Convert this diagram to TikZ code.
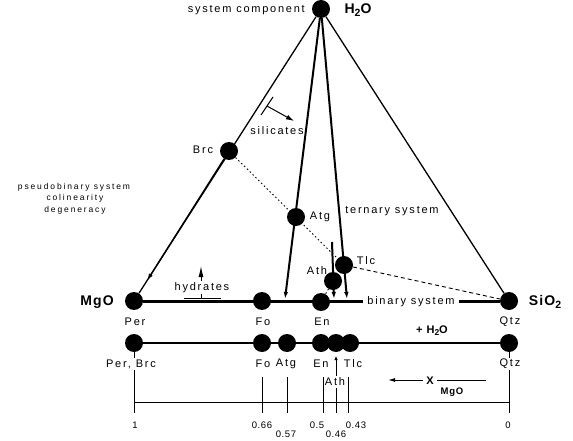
\documentclass[tikz,border=0pt]{standalone}
\usepackage{fontspec}
\setmainfont{Liberation Sans}
\newfontfamily\labfont{Liberation Sans}[LetterSpace=16]
\newfontfamily\numfont{Liberation Sans}[LetterSpace=6]
\newfontfamily\smallfont{Liberation Sans}[LetterSpace=22]
\newfontfamily\boldfont{Liberation Sans}[LetterSpace=8]
\usetikzlibrary{arrows.meta,calc}
\begin{document}
\begin{tikzpicture}[x=1pt,y=-1pt,
  dot/.style={circle,fill=black,inner sep=0pt,minimum size=18pt},
  lbl/.style={font=\labfont\fontsize{11}{12}\selectfont,inner sep=0pt},
  numlbl/.style={font=\numfont\fontsize{9.5}{10}\selectfont,inner sep=0pt},
  smlbl/.style={font=\smallfont\fontsize{8.5}{9}\selectfont,inner sep=0pt},
  bigbold/.style={font=\boldfont\bfseries\fontsize{14}{16}\selectfont,inner sep=0pt},
  midbold/.style={font=\boldfont\bfseries\fontsize{11}{12}\selectfont,inner sep=0pt},
  edge/.style={line width=1.3pt},
  proj/.style={line width=2pt},
  tick/.style={line width=1pt},
  tip/.style={-{Latex[length=7pt,width=4.5pt]}},
  dotline/.style={line width=0.9pt,dash pattern=on 1.5pt off 2.5pt},
  dashline/.style={line width=0.9pt,dash pattern=on 4pt off 3pt},
  whitebg/.style={fill=white}
]
\useasboundingbox (0,0) rectangle (573,441);
% --- main triangle dots
\node[dot] (H) at (321,9) {};
\node[dot] (M) at (134,301) {};
\node[dot] (S) at (509,301) {};
\node[dot] (Brc) at (229,151) {};
\node[dot] (Atg) at (296,217) {};
\node[dot] (Tlc) at (344,265) {};
\node[dot] (Ath) at (333,281) {};
\node[dot] (Fo) at (262,301) {};
\node[dot] (En) at (321,302) {};
% --- helper coordinates
\coordinate (pA) at (285,299);
\coordinate (pT) at (347,299);
\coordinate (athTop) at (332,242);
\coordinate (athBot) at (334,299);
\coordinate (midTip) at ($(H.center)!0.93!(M.center)$);
\coordinate (s1) at (261,115);
\coordinate (s2) at (273,97);
\coordinate (sa) at (267,106);
\coordinate (sb) at (294,121);
\coordinate (hB) at (201,281);
\coordinate (hT) at (201,266);
\coordinate (hl) at (184,298);
\coordinate (hr) at (221,298);
\coordinate (hm) at (201,294);
\coordinate (hm2) at (201,298);
% --- triangle
\draw[edge] (H) -- (M);
\draw[edge] (H) -- (S);
\draw[edge,tip] (Brc) -- (midTip);
\draw[line width=3pt] (M) -- (S);
% --- projections
\draw[proj,tip] (H) -- (pA);
\draw[proj,tip] (H) -- (pT);
\draw[proj,tip] (athTop) -- (athBot);
\draw[dotline] (Brc) -- (Tlc);
\draw[dashline] (Tlc) -- (S);
\draw[dotline] (Ath) -- (En);
% --- silicates marker
\draw[tick] (s1) -- (s2);
\draw[tick,-{Latex[length=8pt,width=5pt]}] (sa) -- (sb);
% --- hydrates marker
\draw[tick,-{Latex[length=11pt,width=5pt]}] (hB) -- (hT);
\draw[tick] (hl) -- (hr);
\draw[tick] (hm) -- (hm2);
% --- labels of upper diagram
\node[lbl,anchor=east] (tsys) at (305,10) {system component};
\node[bigbold] (tH) at (358,10) {H\raisebox{-3pt}{\fontsize{10.5}{11}\selectfont 2}O};
\node[bigbold] (tM) at (97,302) {MgO};
\node[bigbold] (tS) at (545,302) {SiO\raisebox{-3pt}{\fontsize{10.5}{11}\selectfont 2}};
\node[lbl] (tBrc) at (203,150) {Brc};
\node[lbl] (tAtg) at (320,217) {Atg};
\node[lbl] (tAth) at (317,271) {Ath};
\node[lbl] (tTlc) at (366,261) {Tlc};
\node[lbl] (tsil) at (277,131) {silicates};
\node[lbl] (tter) at (392,211) {ternary system};
\node[lbl] (thyd) at (202,288) {hydrates};
\node[lbl,whitebg,inner xsep=4pt,inner ysep=2pt] (tbin) at (411,302) {binary system};
\node[smlbl] (tp1) at (74,187) {pseudobinary system};
\node[smlbl] (tp2) at (75,198) {colinearity};
\node[smlbl] (tp3) at (75,210) {degeneracy};
\node[lbl] (tPer) at (135,322) {Per};
\node[lbl] (tFo) at (263,322) {Fo};
\node[lbl] (tEn) at (322,322) {En};
\node[lbl] (tQtz) at (510,322) {Qtz};
\node[midbold] (tplus) at (432,331) {+ H\raisebox{-2pt}{\fontsize{8.5}{9}\selectfont 2}O};
% --- lower compatibility line
\node[dot] (lPer) at (134,343) {};
\node[dot] (lFo) at (262,343) {};
\node[dot] (lAtg) at (287,343) {};
\node[dot] (lEn) at (321,343) {};
\node[dot] (lAth) at (336,343) {};
\node[dot] (lTlc) at (350,343) {};
\node[dot] (lQtz) at (509,343) {};
\draw[proj] (lPer) -- (lQtz);
% --- scale
\coordinate (sPer) at (134,413);
\coordinate (sFo) at (262,413);
\coordinate (sAtg) at (287,413);
\coordinate (sEn) at (323,413);
\coordinate (sAth) at (336,413);
\coordinate (sTlc) at (348,413);
\coordinate (sQtz) at (509,413);
\coordinate (uFo) at (262,377);
\coordinate (uAtg) at (287,377);
\coordinate (uEn) at (323,377);
\coordinate (uTlc) at (348,377);
\coordinate (uAth) at (336,356);
\coordinate (sl) at (134,402);
\coordinate (sr) at (509,402);
\draw[tick] (sl) -- (sr);
\draw[tick] (lPer) -- (sPer);
\draw[tick] (lQtz) -- (sQtz);
\draw[tick] (uFo) -- (sFo);
\draw[tick] (uAtg) -- (sAtg);
\draw[tick] (uEn) -- (sEn);
\draw[tick] (uTlc) -- (sTlc);
\draw[tick,-{Latex[length=4pt,width=3.5pt]}] (sAth) -- (uAth);
\node[lbl,whitebg,inner ysep=1.5pt] (bPer) at (131,364) {Per, Brc};
\node[lbl] (bFo) at (263,364) {Fo};
\node[lbl] (bAtg) at (286,364) {Atg};
\node[lbl] (bEn) at (321,364) {En};
\node[lbl] (bTlc) at (353,364) {Tlc};
\node[lbl,whitebg,inner ysep=1.5pt] (bQtz) at (510,364) {Qtz};
\node[lbl,whitebg,inner xsep=0.5pt,inner ysep=1.5pt] (bAth) at (335,382) {Ath};
% --- X_MgO
\coordinate (xa) at (423,380);
\coordinate (xb) at (388,380);
\coordinate (xc) at (437,380);
\coordinate (xd) at (486,380);
\draw[tick,-{Latex[length=7pt,width=4pt]}] (xa) -- (xb);
\draw[tick] (xc) -- (xd);
\node[midbold] (tX) at (430,381) {X};
\node[font=\boldfont\bfseries\fontsize{9.5}{10}\selectfont,inner sep=0pt] (tXM) at (452,392) {MgO};
% --- numbers
\node[numlbl] (n1) at (135,425) {1};
\node[numlbl] (n66) at (262,425) {0.66};
\node[numlbl] (n57) at (286,434) {0.57};
\node[numlbl] (n5) at (317,425) {0.5};
\node[numlbl] (n46) at (336,434) {0.46};
\node[numlbl] (n43) at (356,425) {0.43};
\node[numlbl] (n0) at (508,425) {0};
\end{tikzpicture}
\end{document}
